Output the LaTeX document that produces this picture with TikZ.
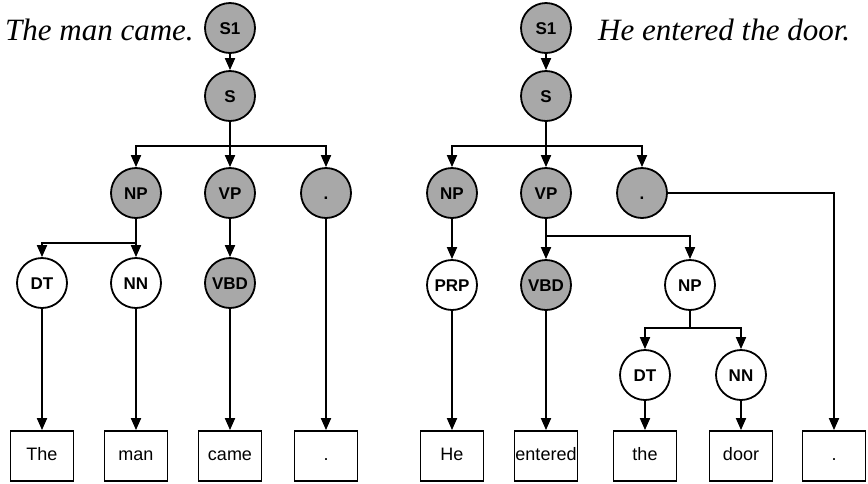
\documentclass[tikz,border=0pt]{standalone}
\usepackage{fontspec}
\setmainfont{Liberation Serif}
\setsansfont{Liberation Sans}
\usetikzlibrary{arrows.meta,positioning}
\definecolor{nodegray}{RGB}{168,168,168}

\begin{document}
\begin{tikzpicture}[
  x=1pt, y=-1pt,
  phrase/.style={circle, draw, line width=1.8pt, fill=nodegray,
    minimum size=50pt, inner sep=0pt, text height=12pt, text depth=0pt,
    font=\sffamily\bfseries\fontsize{17}{17}\selectfont},
  tag/.style={phrase, fill=white},
  word/.style={rectangle, draw, line width=1.8pt, minimum width=63pt,
    minimum height=50pt, inner sep=0pt, text height=13pt, text depth=4pt,
    font=\sffamily\fontsize{18}{18}\selectfont},
  sent/.style={font=\itshape\fontsize{31}{31}\selectfont, inner sep=0pt},
  arrow/.style={draw, line width=1.8pt, -{Triangle[length=12pt,width=10pt]}}
]
\useasboundingbox (0,0) rectangle (868,483);

% left tree: The man came.
\node[sent, anchor=west] (lsent) at (5,30) {The man came.};
\node[phrase] (lS1) at (230,28) {S1};
\node[phrase] (lS) at (230,96) {S};
\node[phrase] (lNP) at (136,193) {NP};
\node[phrase] (lVP) at (230,193) {VP};
\node[phrase] (ldot) at (326,193) {.};
\node[tag] (lDT) at (42,283) {DT};
\node[tag] (lNN) at (136,283) {NN};
\node[phrase] (lVBD) at (230,283) {VBD};
\node[word] (lthe) at (42,456) {The};
\node[word] (lman) at (136,456) {man};
\node[word] (lcame) at (230,456) {came};
\node[word] (lpunct) at (326,456) {.};

\draw[arrow] (lS1) -- (lS);
\draw[arrow] (lS) -- ++(0,50) -| (lNP);
\draw[arrow] (lS) -- (lVP);
\draw[arrow] (lS) -- ++(0,50) -| (ldot);
\draw[arrow] (lNP) -- ++(0,50) -| (lDT);
\draw[arrow] (lNP) -- (lNN);
\draw[arrow] (lVP) -- (lVBD);
\draw[arrow] (lDT) -- (lthe);
\draw[arrow] (lNN) -- (lman);
\draw[arrow] (lVBD) -- (lcame);
\draw[arrow] (ldot) -- (lpunct);

% right tree: He entered the door.
\node[sent, anchor=west] (rsent) at (598,30) {He entered the door.};
\node[phrase] (rS1) at (546,28) {S1};
\node[phrase] (rS) at (546,96) {S};
\node[phrase] (rNP) at (452,193) {NP};
\node[phrase] (rVP) at (546,193) {VP};
\node[phrase] (rdot) at (642,193) {.};
\node[tag] (rPRP) at (452,285) {PRP};
\node[phrase] (rVBD) at (546,285) {VBD};
\node[tag] (rNP2) at (690,285) {NP};
\node[tag] (rDT) at (645,375) {DT};
\node[tag] (rNN) at (741,375) {NN};
\node[word] (rhe) at (452,456) {He};
\node[word] (rentered) at (546,456) {entered};
\node[word] (rthe) at (645,456) {the};
\node[word] (rdoor) at (741,456) {door};
\node[word] (rpunct) at (834,456) {.};

\draw[arrow] (rS1) -- (rS);
\draw[arrow] (rS) -- ++(0,50) -| (rNP);
\draw[arrow] (rS) -- (rVP);
\draw[arrow] (rS) -- ++(0,50) -| (rdot);
\draw[arrow] (rNP) -- (rPRP);
\draw[arrow] (rVP) -- (rVBD);
\draw[arrow] (rVP) -- ++(0,43) -| (rNP2);
\draw[arrow] (rdot) -| (rpunct);
\draw[arrow] (rNP2) -- ++(0,43) -| (rDT);
\draw[arrow] (rNP2) -- ++(0,43) -| (rNN);
\draw[arrow] (rPRP) -- (rhe);
\draw[arrow] (rVBD) -- (rentered);
\draw[arrow] (rDT) -- (rthe);
\draw[arrow] (rNN) -- (rdoor);
\end{tikzpicture}
\end{document}
